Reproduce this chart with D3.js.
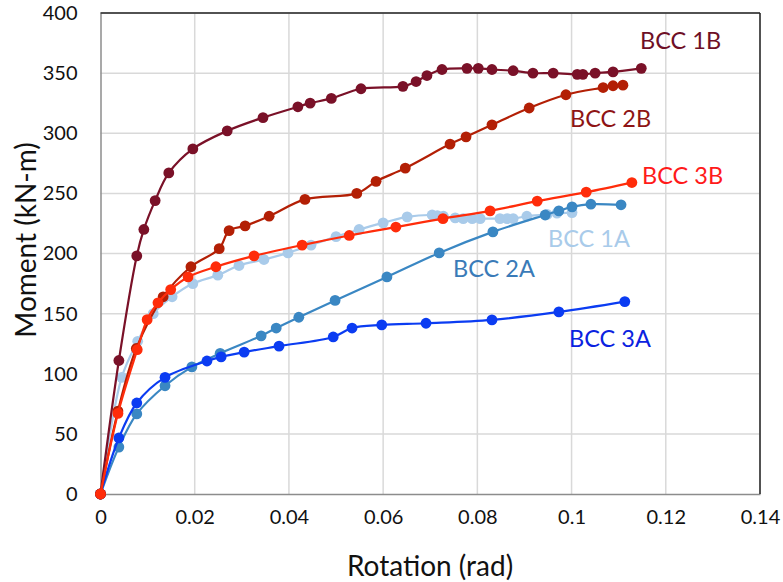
<!DOCTYPE html>
<html>
<head>
<meta charset="utf-8">
<script src="https://cdn.jsdelivr.net/npm/d3@7"></script>
<style>
  body { margin:0; background:#fff; }
  text { font-family: Lato, "Noto Sans", sans-serif; }
</style>
</head>
<body>
<div id="chart"></div>
<script>
// data: [rotation (rad), moment (kN-m)]
var bcc1A = [[0,0],[0.0045,97],[0.0079,127],[0.0112,150],[0.0152,164],[0.0196,175],[0.0249,182],[0.0294,190],[0.0347,195],[0.0398,200.5],[0.0447,207],[0.05,214],[0.0549,220],[0.06,225.5],[0.0651,230.5],[0.0704,232],[0.0715,231.5],[0.0728,231],[0.0753,229.6],[0.077,229],[0.0789,229],[0.0806,229],[0.0848,229],[0.0863,229],[0.0876,229],[0.0905,231],[0.0948,232.5],[0.0969,233.5],[0.1001,234]]
var bcc2A = [[0,0],[0.0039,39],[0.0077,66.6],[0.0137,90],[0.0194,105.7],[0.0254,117],[0.0341,131.5],[0.0373,138],[0.0421,147],[0.0498,161],[0.0608,180.5],[0.0719,200.5],[0.0833,218],[0.0944,232],[0.0973,235.5],[0.1001,238.8],[0.1041,241],[0.1105,240.5]]
var bcc3A = [[0,0],[0.0039,46.6],[0.0077,75.7],[0.0137,97],[0.0226,110.6],[0.0256,114],[0.0305,118],[0.0379,123],[0.0494,130.6],[0.0534,138],[0.0597,140.6],[0.0691,142],[0.0831,144.8],[0.0973,151.4],[0.1113,160]]
var bcc1B = [[0,0],[0.0039,111],[0.0077,198],[0.0092,220],[0.0116,244],[0.0145,267],[0.0196,287],[0.0269,302],[0.0345,313],[0.0419,322],[0.0445,325],[0.049,329],[0.0553,337],[0.0642,339],[0.067,343],[0.0693,348],[0.0725,353],[0.0778,354],[0.0802,354],[0.0831,353],[0.0876,352],[0.0918,350],[0.0961,350],[0.1012,349],[0.1024,349],[0.105,350],[0.1088,351],[0.1148,354]]
var bcc2B = [[0,0],[0.0037,69],[0.0076,121],[0.0133,164],[0.0192,189],[0.0252,204],[0.0273,219],[0.0307,223],[0.0358,231],[0.0434,245],[0.0544,250],[0.0585,260],[0.0647,271],[0.0742,291],[0.0776,297],[0.0831,307],[0.091,321],[0.0988,332],[0.1067,338],[0.1088,339.5],[0.1109,340]]
var bcc3B = [[0,0],[0.0037,67],[0.0078,120],[0.0099,145],[0.0122,159],[0.0149,170],[0.0186,180.5],[0.0245,189],[0.0326,198],[0.0428,207],[0.0528,215],[0.0627,222],[0.0727,229],[0.0827,235.5],[0.0927,243.5],[0.1031,251],[0.1128,259]]

var seriesNames = ["BCC 1A","BCC 2A","BCC 3A","BCC 1B","BCC 2B","BCC 3B"]
var xTicks = [0,0.02,0.04,0.06,0.08,0.1,0.12,0.14]
var yTicks = [0,50,100,150,200,250,300,350,400]

var series = [
  {name:seriesNames[0], data:bcc1A, color:"#a9cbea", textColor:"#a9cbea", lx:548, ly:238},
  {name:seriesNames[1], data:bcc2A, color:"#3a87c3", textColor:"#3a7bb8", lx:453, ly:268},
  {name:seriesNames[2], data:bcc3A, color:"#0b3cf2", textColor:"#0b22e0", lx:569, ly:338},
  {name:seriesNames[3], data:bcc1B, color:"#7a1128", textColor:"#6e0f26", lx:640, ly:40},
  {name:seriesNames[4], data:bcc2B, color:"#b31f05", textColor:"#8e1414", lx:570, ly:118},
  {name:seriesNames[5], data:bcc3B, color:"#ff2c0a", textColor:"#ff1a1a", lx:642, ly:175}
]

var W=783, H=582
var margin = {top:13, right:23, bottom:88, left:100.5}
var width = W-margin.left-margin.right, height = H-margin.top-margin.bottom

var svg = d3.select("#chart").append("svg")
  .attr("width",W).attr("height",H)

var g = svg.append("g").attr("transform",`translate(${margin.left},${margin.top})`)

var x = d3.scaleLinear().domain([0,0.14]).range([0,width])
var y = d3.scaleLinear().domain([0,400]).range([height,0])

// grid
g.append("g").selectAll("line").data(yTicks.slice(1)).join("line")
  .attr("x1",0).attr("x2",width)
  .attr("y1",d=>y(d)).attr("y2",d=>y(d))
  .attr("stroke","#d9d9d9").attr("stroke-width",1.5)
g.append("g").selectAll("line").data(xTicks.slice(1)).join("line")
  .attr("y1",0).attr("y2",height)
  .attr("x1",d=>x(d)).attr("x2",d=>x(d))
  .attr("stroke","#d9d9d9").attr("stroke-width",1.5)

// axes
var xAxis = g.append("g").attr("transform",`translate(0,${height})`)
  .call(d3.axisBottom(x).tickValues(xTicks).tickSize(0).tickPadding(16).tickFormat(d=>d3.format("")(+d.toFixed(2))))
var yAxis = g.append("g")
  .call(d3.axisLeft(y).tickValues(yTicks).tickSize(0).tickPadding(23))
xAxis.select(".domain").attr("stroke","#8c8c8c").attr("stroke-width",1.5)
yAxis.select(".domain").attr("stroke","#8c8c8c").attr("stroke-width",1.5)
g.selectAll(".tick text").style("font-size","20px").style("fill","#111")
  .style("font-family","Lato, 'Noto Sans', sans-serif")

// chart border (top/right)
g.append("line").attr("x1",0).attr("x2",width).attr("y1",0).attr("y2",0)
  .attr("stroke","#222").attr("stroke-width",1.5)
g.append("line").attr("x1",width).attr("x2",width).attr("y1",0).attr("y2",height)
  .attr("stroke","#222").attr("stroke-width",1.5)

var line = d3.line().x(d=>x(d[0])).y(d=>y(d[1])).curve(d3.curveCatmullRom.alpha(0.5))

series.forEach(function(s){
  var sg = g.append("g")
  sg.append("path").datum(s.data)
    .attr("d",line).attr("fill","none")
    .attr("stroke",s.color).attr("stroke-width",2.2)
  sg.selectAll("circle").data(s.data).join("circle")
    .attr("cx",d=>x(d[0])).attr("cy",d=>y(d[1])).attr("r",5.4)
    .attr("fill",s.color)
})

// series labels
series.forEach(function(s){
  svg.append("text").attr("x",s.lx).attr("y",s.ly)
    .attr("dominant-baseline","central")
    .style("font-size","23.5px").style("fill",s.textColor)
    .text(s.name)
})

// axis titles
svg.append("text").attr("x",430).attr("y",565)
  .attr("text-anchor","middle").attr("dominant-baseline","central")
  .style("font-size","28px").style("fill","#111").text("Rotation (rad)")
svg.append("text").attr("transform","translate(25,240) rotate(-90)")
  .attr("text-anchor","middle").attr("dominant-baseline","central")
  .style("font-size","28px").style("fill","#111").text("Moment (kN-m)")
</script>
</body>
</html>
